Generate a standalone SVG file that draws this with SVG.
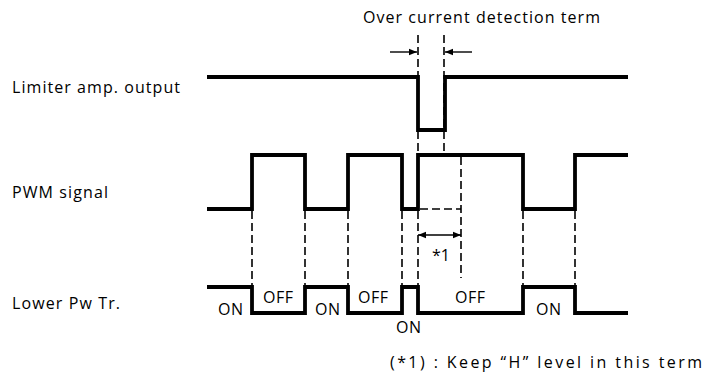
<svg xmlns="http://www.w3.org/2000/svg" width="705" height="380" viewBox="0 0 705 380">
<defs>
<style>
text{font-family:"Open Sans","Noto Sans","DejaVu Sans",sans-serif;font-size:16px;fill:#000}
.sig{fill:none;stroke:#000;stroke-width:3.8;stroke-linejoin:miter}
.dash{fill:none;stroke:#000;stroke-width:1.6;stroke-dasharray:8 4}
.arr{fill:none;stroke:#000;stroke-width:1.4}
</style>
<marker id="ah" viewBox="0 0 10 10" refX="10" refY="5" markerWidth="10" markerHeight="8" markerUnits="userSpaceOnUse" orient="auto-start-reverse">
<path d="M0,1 L10,5 L0,9 Z" fill="#000"/>
</marker>
</defs>
<rect width="705" height="380" fill="#fff"/>
<g id="labels">
<text x="363" y="23" textLength="237">Over current detection term</text>
<text x="12" y="93" textLength="168">Limiter amp. output</text>
<text x="12" y="198" textLength="96">PWM signal</text>
<text x="12" y="309" textLength="108">Lower Pw Tr.</text>
<text x="390" y="368" textLength="312">(*1) : Keep “H” level in this term</text>
</g>
<g id="limiter">
<path class="sig" d="M207,77 H418 V130 H445 V77 H628"/>
</g>
<g id="pwm">
<path class="sig" d="M207,209 H252 V155 H305 V209 H348 V155 H402 V209 H418 V155 H523 V209 H575 V155 H628"/>
</g>
<g id="lower">
<path class="sig" d="M207,287 H252 V313 H305 V287 H348 V313 H402 V287 H418 V313 H523 V287 H575 V313 H628"/>
<text x="218" y="315" textLength="25">ON</text>
<text x="263" y="303" textLength="30">OFF</text>
<text x="315" y="315" textLength="25">ON</text>
<text x="358" y="303" textLength="30">OFF</text>
<text x="396" y="333" textLength="25">ON</text>
<text x="455" y="303" textLength="30">OFF</text>
<text x="536" y="315" textLength="25">ON</text>
<text x="432" y="261">*1</text>
</g>
<g id="connectors">
<path class="dash" d="M418,35 V155 M444,35 V155"/>
<path class="dash" d="M252,211 V287 M305,211 V287 M348,211 V287 M402,211 V287 M418,211 V287 M523,211 V287 M575,211 V287"/>
<path class="dash" d="M461,157 V278 M420,209 H461"/>
<path class="arr" d="M390,52 H417" marker-end="url(#ah)"/>
<path class="arr" d="M472,52 H445" marker-end="url(#ah)"/>
<path class="arr" d="M418,235 H461" marker-start="url(#ah)" marker-end="url(#ah)"/>
</g>
</svg>
